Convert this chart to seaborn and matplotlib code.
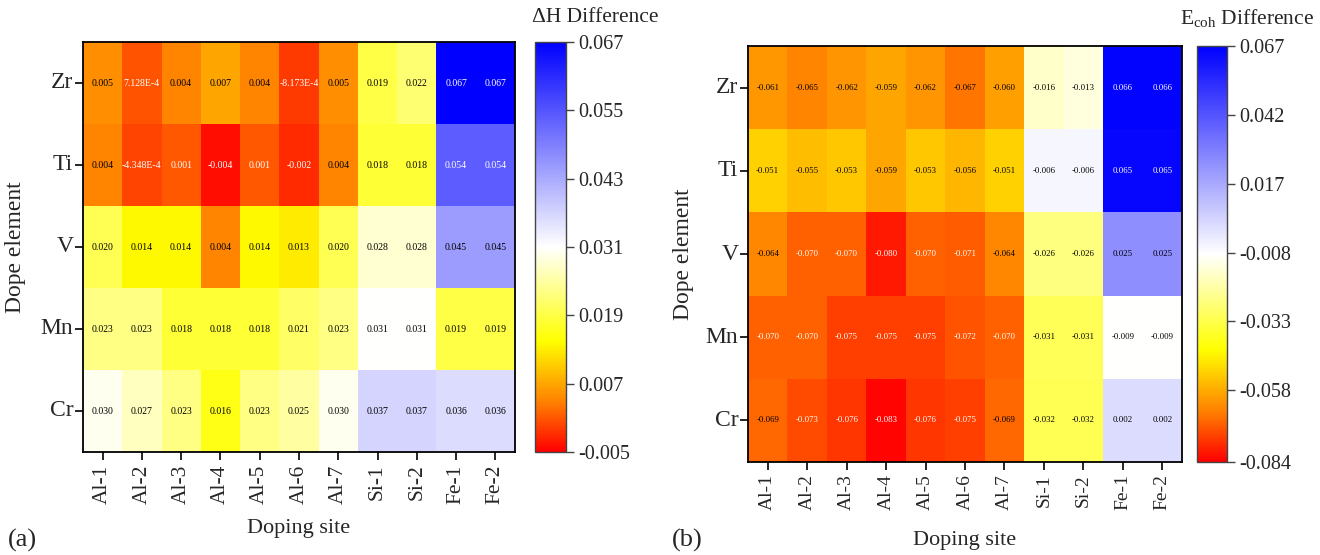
import numpy as np
import pandas as pd
import matplotlib
matplotlib.use("Agg")
import matplotlib.pyplot as plt
import seaborn as sns
from matplotlib.colors import LinearSegmentedColormap, Normalize

# ---- data -------------------------------------------------------------
dopants = ["Zr", "Ti", "V", "Mn", "Cr"]
sites = ["Al-1", "Al-2", "Al-3", "Al-4", "Al-5", "Al-6", "Al-7",
         "Si-1", "Si-2", "Fe-1", "Fe-2"]

dH_Zr = [0.005, 0.0007128, 0.004, 0.007, 0.004, -0.0008173, 0.005, 0.019, 0.022, 0.067, 0.067]
dH_Ti = [0.004, -0.0004348, 0.001, -0.004, 0.001, -0.002, 0.004, 0.018, 0.018, 0.054, 0.054]
dH_V = [0.020, 0.014, 0.014, 0.004, 0.014, 0.013, 0.020, 0.028, 0.028, 0.045, 0.045]
dH_Mn = [0.023, 0.023, 0.018, 0.018, 0.018, 0.021, 0.023, 0.031, 0.031, 0.019, 0.019]
dH_Cr = [0.030, 0.027, 0.023, 0.016, 0.023, 0.025, 0.030, 0.037, 0.037, 0.036, 0.036]

ecoh_Zr = [-0.061, -0.065, -0.062, -0.059, -0.062, -0.067, -0.060, -0.016, -0.013, 0.066, 0.066]
ecoh_Ti = [-0.051, -0.055, -0.053, -0.059, -0.053, -0.056, -0.051, -0.006, -0.006, 0.065, 0.065]
ecoh_V = [-0.064, -0.070, -0.070, -0.080, -0.070, -0.071, -0.064, -0.026, -0.026, 0.025, 0.025]
ecoh_Mn = [-0.070, -0.070, -0.075, -0.075, -0.075, -0.072, -0.070, -0.031, -0.031, -0.009, -0.009]
ecoh_Cr = [-0.069, -0.073, -0.076, -0.083, -0.076, -0.075, -0.069, -0.032, -0.032, 0.002, 0.002]

dH_ticks = [-0.005, 0.007, 0.019, 0.031, 0.043, 0.055, 0.067]
ecoh_ticks = [-0.084, -0.058, -0.033, -0.008, 0.017, 0.042, 0.067]

dH = pd.DataFrame([dH_Zr, dH_Ti, dH_V, dH_Mn, dH_Cr], index=dopants, columns=sites)
ecoh = pd.DataFrame([ecoh_Zr, ecoh_Ti, ecoh_V, ecoh_Mn, ecoh_Cr], index=dopants, columns=sites)

# ---- style ------------------------------------------------------------
sns.set_theme(style="white")
plt.rcParams["font.family"] = ["Liberation Serif", "DejaVu Serif"]
plt.rcParams["mathtext.fontset"] = "custom"
plt.rcParams["mathtext.rm"] = "Liberation Serif"
plt.rcParams["mathtext.it"] = "Liberation Serif:italic"

# red -> orange -> yellow -> white -> blue
cmap = LinearSegmentedColormap.from_list(
    "ryb",
    [(0.0, (1.0, 0.0, 0.0)),
     (0.12, (1.0, 0.5, 0.0)),
     (0.27, (1.0, 1.0, 0.0)),
     (0.50, (1.0, 1.0, 1.0)),
     (1.0, (0.0, 0.0, 1.0))])

W, H = 1320, 555
fig = plt.figure(figsize=(W / 100, H / 100), dpi=100)


def rect(x0, y0, x1, y1):
    return [x0 / W, 1 - y1 / H, (x1 - x0) / W, (y1 - y0) / H]


def fmt(v):
    if v != 0 and abs(v) < 0.001:
        m, e = f"{v:.3E}".split("E")
        return f"{m}E{int(e)}"
    return f"{v:.3f}"


def panel(df, ticks, ax_box, cax_box, xtick_size, annot_size):
    ax = fig.add_axes(rect(*ax_box))
    cax = fig.add_axes(rect(*cax_box))
    vmin, vmax = ticks[0], ticks[-1]
    sns.heatmap(df, ax=ax, cbar_ax=cax, cmap=cmap, vmin=vmin, vmax=vmax,
                linewidths=0, cbar_kws={"ticks": ticks})
    norm = Normalize(vmin, vmax)
    for i in range(df.shape[0]):
        for j in range(df.shape[1]):
            v = df.iat[i, j]
            f = norm(v)
            col = "white" if (f < 0.096 or f > 0.75) else "black"
            ax.text(j + 0.5, i + 0.5, fmt(v), ha="center", va="center",
                    fontsize=annot_size, color=col)
    for s in ax.spines.values():
        s.set_visible(True)
        s.set_color("black")
        s.set_linewidth(1.3)
    ax.tick_params(axis="both", which="both", length=6, width=1.2,
                   color="black", direction="out", bottom=True, left=True)
    ax.tick_params(axis="y", labelsize=17, pad=1)
    ax.tick_params(axis="x", labelsize=xtick_size, pad=3)
    ax.set_yticklabels(df.index, rotation=0)
    ax.set_xticklabels(df.columns, rotation=90)
    ax.set_xlabel("")
    ax.set_ylabel("")
    cbar = ax.collections[0].colorbar
    cbar.outline.set_edgecolor("#444444")
    cbar.outline.set_linewidth(1.0)
    cax.tick_params(axis="y", length=6, width=1.0, color="#444444",
                    labelsize=14.5, right=True, direction="out", pad=3)
    cax.set_yticklabels([f"{t:.3f}" for t in ticks])
    return ax


panel(dH, dH_ticks, (83, 42, 515, 452), (535, 42, 566, 452), 15.5, 7)
panel(ecoh, ecoh_ticks, (748, 46, 1182, 462), (1197, 46, 1227, 462), 14, 6.3)

# axis titles and panel tags
fig.text(16 / W, 1 - 247 / H, "Dope element", rotation=90, ha="center",
         va="center", fontsize=17)
fig.text(683 / W, 1 - 254 / H, "Dope element", rotation=90, ha="center",
         va="center", fontsize=17)
fig.text(299 / W, 1 - 528 / H, "Doping site", ha="center", va="center", fontsize=16)
fig.text(965 / W, 1 - 540 / H, "Doping site", ha="center", va="center", fontsize=16)
fig.text(8 / W, 1 - 540 / H, "(a)", ha="left", va="center", fontsize=19)
fig.text(672 / W, 1 - 540 / H, "(b)", ha="left", va="center", fontsize=19)
fig.text(595 / W, 1 - 18 / H, "ΔH Difference", ha="center", va="center", fontsize=15.5)
fig.text(1247 / W, 1 - 18 / H, r"E$_{\rm coh}$ Difference", ha="center",
         va="center", fontsize=15.5)

fig.savefig("out.png", dpi=100, facecolor="white")
